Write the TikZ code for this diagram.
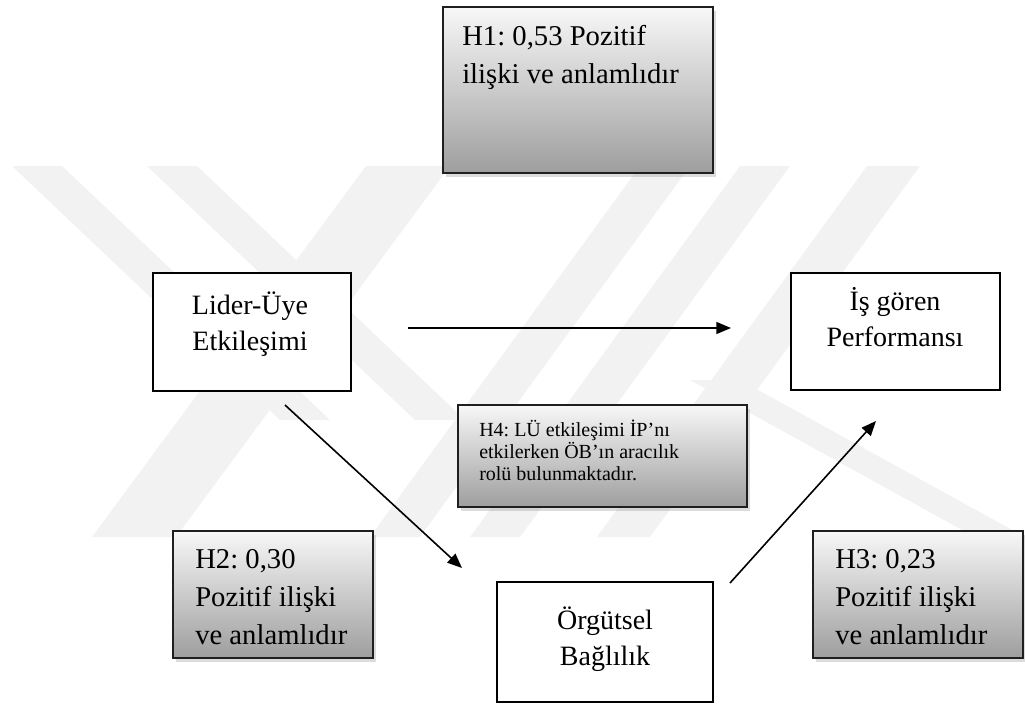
\documentclass[tikz,border=0pt]{standalone}
\usepackage{fontspec}
\setmainfont{Liberation Serif}
\usetikzlibrary{arrows.meta,shadows,fit}
\frenchspacing
\begin{document}
\begin{tikzpicture}[x=0.75pt,y=-0.75pt,
  plainbox/.style={draw=black, line width=1.5pt, fill=white, inner sep=0pt},
  hypbox/.style={draw=black!88, line width=1.7pt, inner sep=0pt,
    top color=black!3, bottom color=black!38,
    drop shadow={shadow xshift=2.2pt, shadow yshift=-2.8pt, opacity=0.28}},
  bigtext/.style={font=\fontsize{21}{27}\selectfont, inner sep=0pt, anchor=base},
  hyptext/.style={font=\fontsize{21.5}{28.5}\selectfont, inner sep=0pt, anchor=base west},
  smalltext/.style={font=\fontsize{15}{16.5}\selectfont, inner sep=0pt, anchor=base west},
  link/.style={line width=1.2pt, -{Triangle[length=11pt,width=9pt]}},
  wmark/.style={fill=black!5, draw=none}
]
\useasboundingbox (0,0) rectangle (1025,707);

% faint background emblem
\fill[wmark] (12,166) -- (62,166) -- (330,420) -- (280,420) -- cycle;
\fill[wmark] (147,166) -- (197,166) -- (465,420) -- (415,420) -- cycle;
\fill[wmark] (92,537) -- (176,537) -- (450,166) -- (366,166) -- cycle;
\fill[wmark] (640,166) -- (690,166) -- (420,537) -- (370,537) -- cycle;
\fill[wmark] (740,166) -- (790,166) -- (520,537) -- (470,537) -- cycle;
\fill[wmark] (867,166) -- (920,166) -- (650,537) -- (597,537) -- cycle;
\fill[wmark] (690,380) -- (740,380) -- (1025,537) -- (975,537) -- cycle;

% boxes
\node[hypbox, fit={(443,7) (713,173)}] (h1) {};
\node[plainbox, fit={(153,273) (351,391)}] (lider) {};
\node[plainbox, fit={(791,273) (1000,390)}] (isgoren) {};
\node[hypbox, fit={(458,405) (747,507)}] (h4) {};
\node[hypbox, fit={(173,531) (373,658)}] (h2) {};
\node[plainbox, fit={(497,582) (713,702)}] (orgut) {};
\node[hypbox, fit={(813,531) (1023,658)}] (h3) {};

% texts
\node[hyptext] (h1-t) at (462,45) {\begin{tabular}[t]{@{}l@{}}H1: 0,53 Pozitif\\ilişki ve anlamlıdır\end{tabular}};
\node[bigtext] (lider-t) at (250,314) {\begin{tabular}[t]{@{}c@{}}Lider-Üye\\Etkileşimi\end{tabular}};
\node[bigtext] (isgoren-t) at (895,310) {\begin{tabular}[t]{@{}c@{}}İş gören\\Performansı\end{tabular}};
\node[smalltext] (h4-t) at (479,436) {\begin{tabular}[t]{@{}l@{}}H4: LÜ etkileşimi İP’nı\\etkilerken ÖB’ın aracılık\\rolü bulunmaktadır.\end{tabular}};
\node[hyptext] (h2-t) at (195,568) {\begin{tabular}[t]{@{}l@{}}H2: 0,30\\Pozitif ilişki\\ve anlamlıdır\end{tabular}};
\node[bigtext] (orgut-t) at (605,629) {\begin{tabular}[t]{@{}c@{}}Örgütsel\\Bağlılık\end{tabular}};
\node[hyptext] (h3-t) at (835,568) {\begin{tabular}[t]{@{}l@{}}H3: 0,23\\Pozitif ilişki\\ve anlamlıdır\end{tabular}};

% arrow ends
\coordinate (a1) at (408,328);
\coordinate (a2) at (731,328);
\coordinate (b1) at (285,405);
\coordinate (b2) at (462,568);
\coordinate (c1) at (730,583);
\coordinate (c2) at (876,421);

\draw[link] (a1) -- (a2);
\draw[link] (b1) -- (b2);
\draw[link] (c1) -- (c2);
\end{tikzpicture}
\end{document}
